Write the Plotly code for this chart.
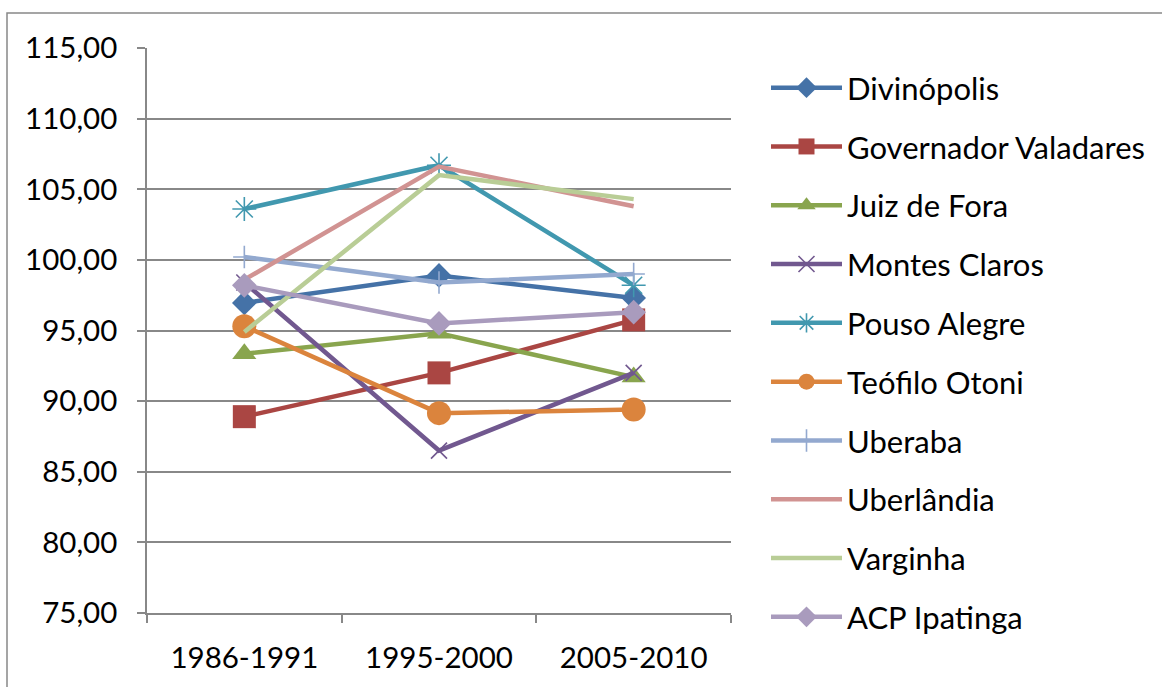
import plotly.graph_objects as go

categories = ["1986-1991", "1995-2000", "2005-2010"]
series_names = ["Divinópolis", "Governador Valadares", "Juiz de Fora", "Montes Claros",
                "Pouso Alegre", "Teófilo Otoni", "Uberaba", "Uberlândia", "Varginha", "ACP Ipatinga"]
divinopolis = [96.95, 98.9, 97.3]
gov_valadares = [88.9, 92.0, 95.75]
juiz_de_fora = [93.35, 94.8, 91.7]
montes_claros = [98.4, 86.5, 92.0]
pouso_alegre = [103.6, 106.7, 98.2]
teofilo_otoni = [95.3, 89.15, 89.4]
uberaba = [100.2, 98.4, 99.0]
uberlandia = [98.6, 106.6, 103.8]
varginha = [94.9, 106.0, 104.3]
acp_ipatinga = [98.2, 95.5, 96.3]
y_ticks = [75, 80, 85, 90, 95, 100, 105, 110, 115]
y_ticklabels = ["75,00", "80,00", "85,00", "90,00", "95,00", "100,00", "105,00", "110,00", "115,00"]

values = [divinopolis, gov_valadares, juiz_de_fora, montes_claros, pouso_alegre,
          teofilo_otoni, uberaba, uberlandia, varginha, acp_ipatinga]
colors = ["#4572A7", "#AA4643", "#89A54E", "#71588F", "#4198AF",
          "#DB843D", "#93A9CF", "#D19392", "#B9CD96", "#A99BBD"]
symbols = ["diamond", "square", "triangle-up", "x-thin-open", "asterisk-open",
           "circle", "cross-thin-open", None, None, "diamond"]
sizes = [19, 23, 21, 16, 20, 24, 16, 0, 0, 19]

FONT = "Lato"
FS = 31
TFS = 29.5
W, H = 1162, 687
L, R, T, B = 147, 1162 - 731, 48, 687 - 613

fig = go.Figure()
for i, (name, vals) in enumerate(zip(series_names, values)):
    sym = symbols[i]
    if sym is None:
        mode = "lines"
        marker = None
    else:
        mode = "lines+markers"
        thin = sym.endswith("open")
        marker = dict(symbol=sym, size=sizes[i], color=colors[i],
                      line=dict(color=colors[i], width=1.6 if thin else 0))
    fig.add_trace(go.Scatter(
        x=categories, y=vals, name=name, mode=mode,
        line=dict(color=colors[i], width=4.5),
        marker=marker, legendgroup=name,
    ))

pw = W - L - R
ph = H - T - B
fig.add_shape(type="rect", xref="paper", yref="paper",
              x0=(7 - L) / pw, x1=(W + 20 - L) / pw,
              y0=-(700 - (H - B)) / ph,
              y1=((H - B) - 13) / ph,
              line=dict(color="#888888", width=1.5), layer="below")

fig.update_layout(
    width=W, height=H,
    margin=dict(l=L, r=R, t=T, b=B, pad=0),
    paper_bgcolor="white", plot_bgcolor="white",
    font=dict(family=FONT, size=FS, color="black"),
    showlegend=True,
    legend=dict(x=(766 - L) / pw, xanchor="left", y=((H - B) - 61) / ph, yanchor="top",
                font=dict(family=FONT, size=FS, color="black"),
                tracegroupgap=15.5, itemwidth=71, bgcolor="rgba(0,0,0,0)",
                maxheight=H),
    xaxis=dict(type="category", range=[-0.5, 2.5], showgrid=False,
               showline=True, linecolor="#888888", linewidth=1.5,
               ticks="outside", ticklen=8, tickcolor="#888888", tickwidth=1.5,
               tickson="boundaries", ticklabelstandoff=18,
               tickfont=dict(family=FONT, size=TFS, color="black"), fixedrange=True),
    yaxis=dict(range=[75, 115], tickvals=y_ticks, ticktext=y_ticklabels,
               showgrid=True, gridcolor="#888888", gridwidth=1.5,
               showline=True, linecolor="#888888", linewidth=1.5,
               ticks="outside", ticklen=8, tickcolor="#888888", tickwidth=1.5,
               ticklabelstandoff=14, zeroline=False,
               tickfont=dict(family=FONT, size=TFS, color="black"), fixedrange=True),
)

fig.write_html("out.html", config={"displayModeBar": False},
               post_script="document.body.style.margin='0';")
